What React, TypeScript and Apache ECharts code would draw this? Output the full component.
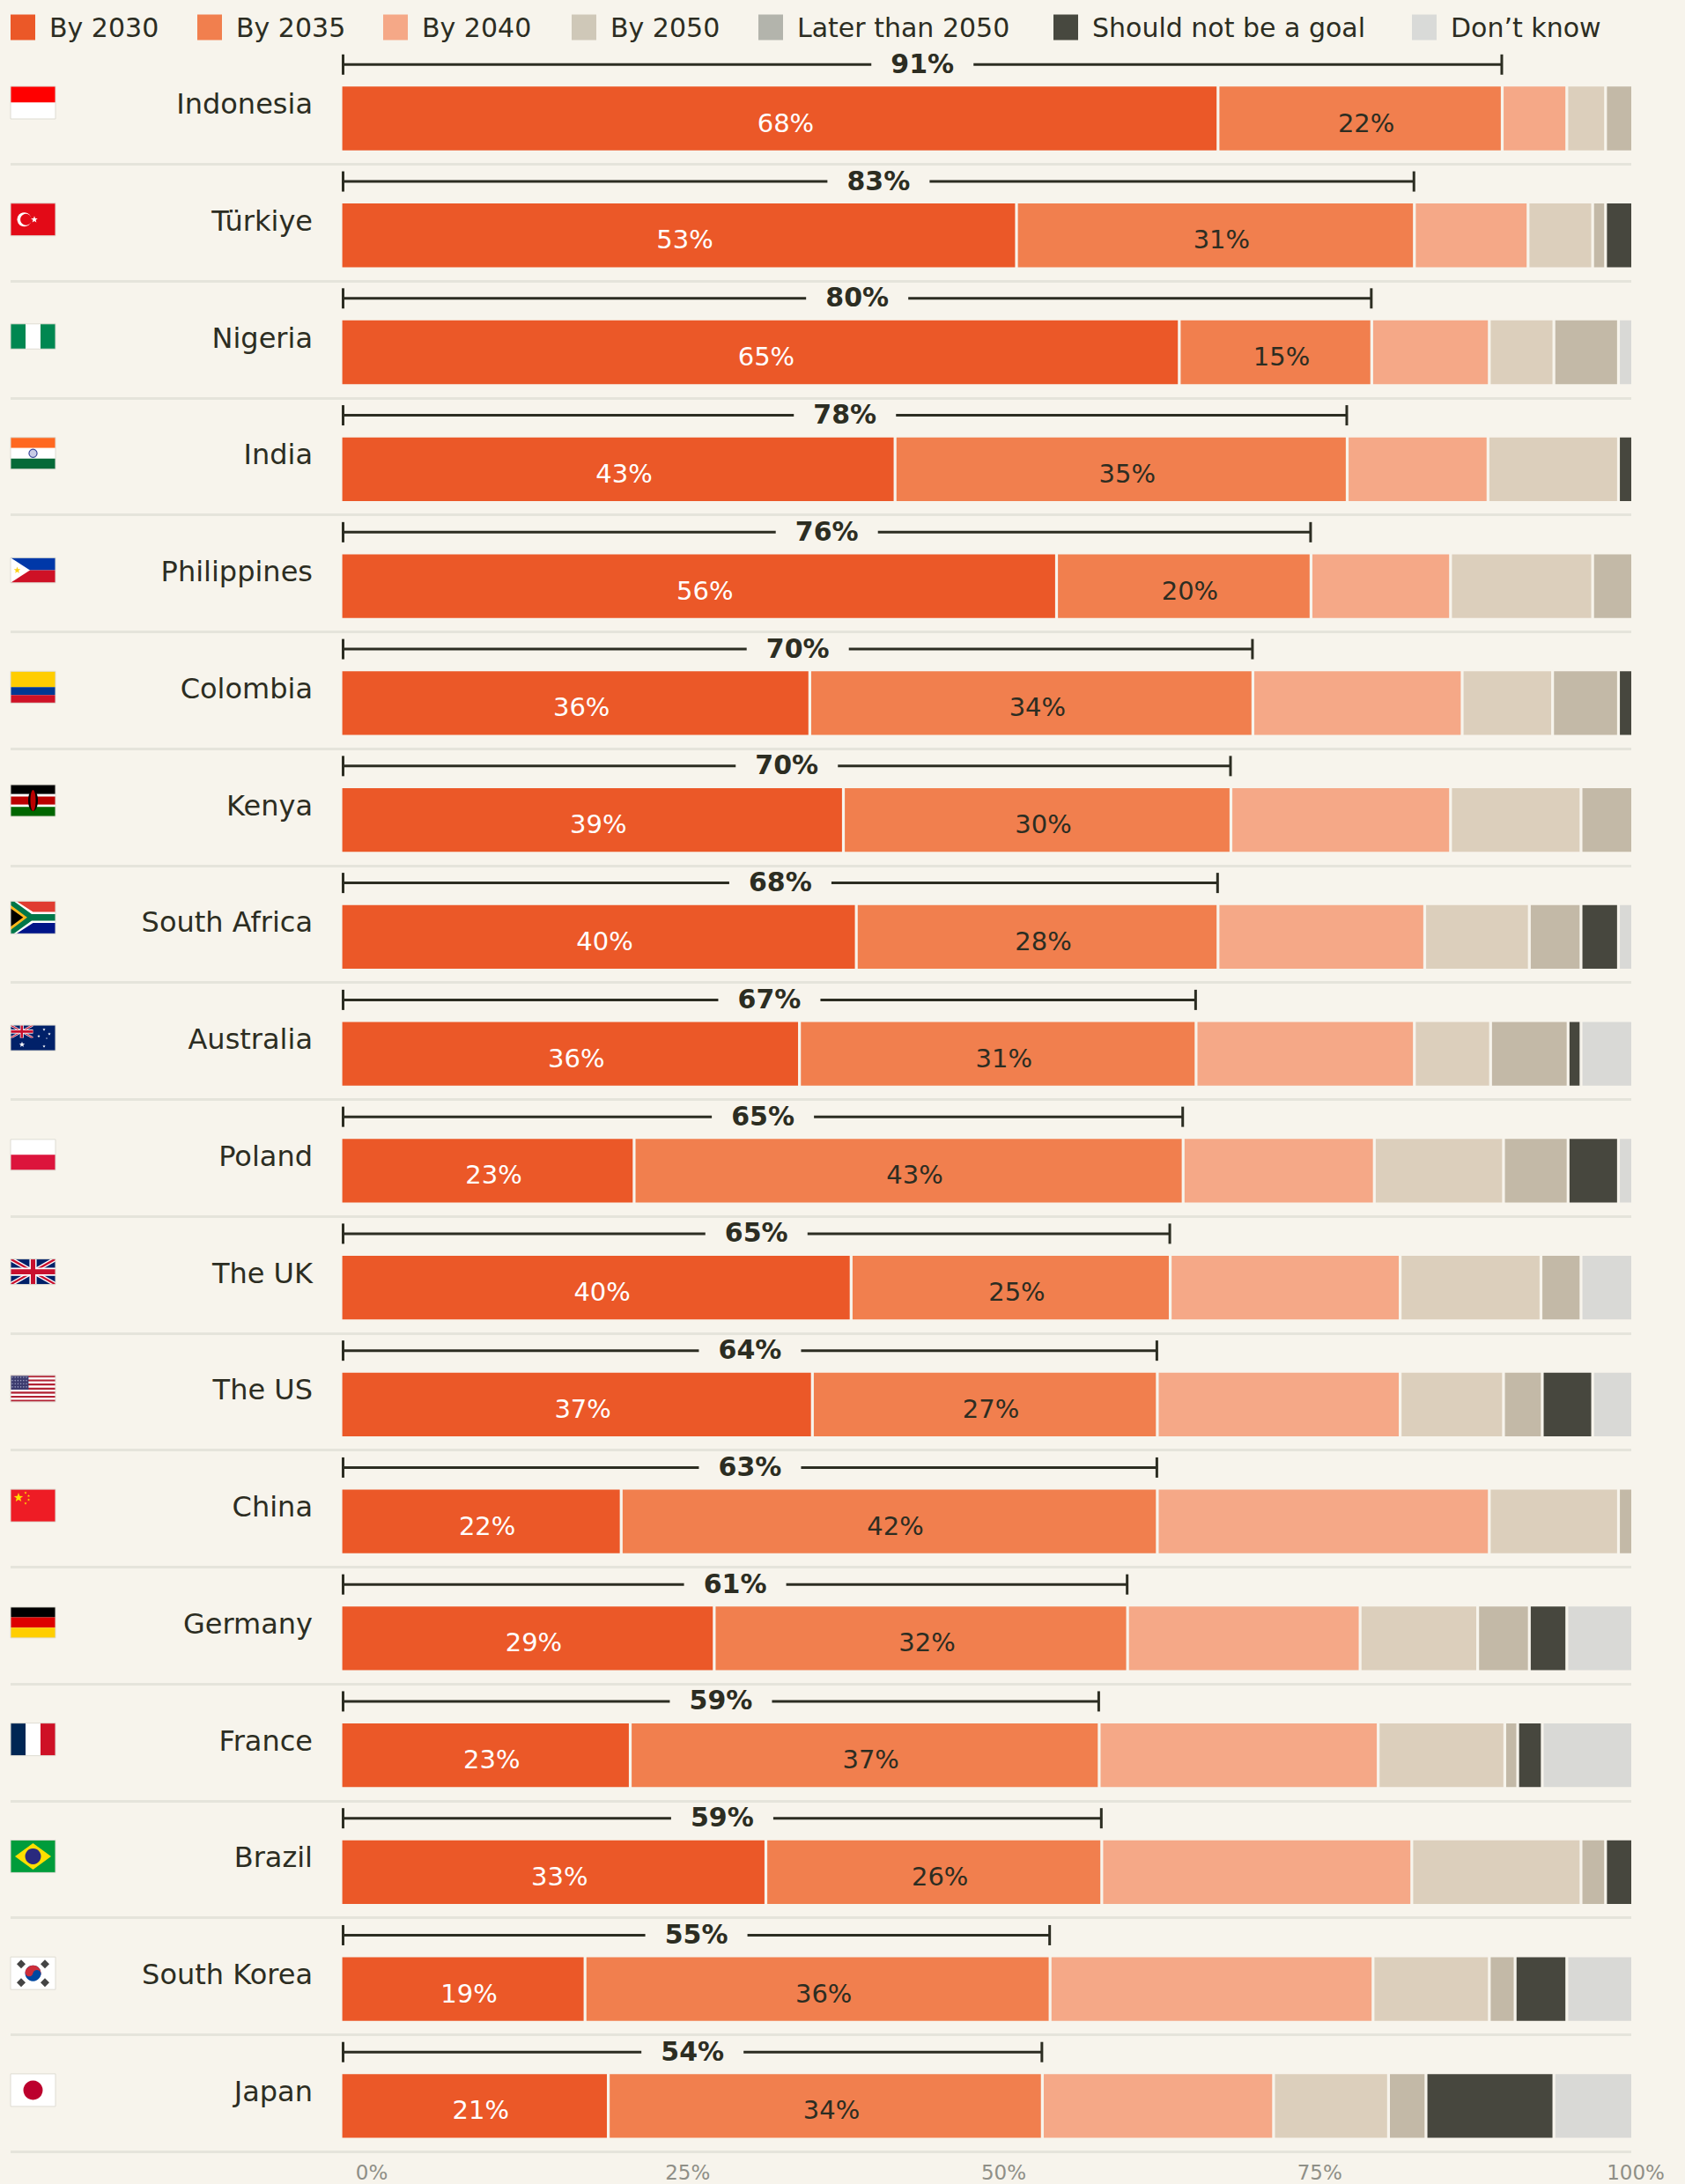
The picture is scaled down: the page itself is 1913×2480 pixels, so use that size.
import React, { useEffect, useRef } from "react";
import * as echarts from "echarts";

const FONT = "'DejaVu Sans', sans-serif";
const BG = "#F7F4EC";
const INK = "#2C2D22";

const countries = ["Indonesia","Türkiye","Nigeria","India","Philippines","Colombia","Kenya","South Africa","Australia","Poland","The UK","The US","China","Germany","France","Brazil","South Korea","Japan"];
const seriesNames = ["By 2030","By 2035","By 2040","By 2050","Later than 2050","Should not be a goal","Don’t know"];
const barColors = ["#EB5828","#F17F4E","#F5A887","#DCCFBC","#C3B9A7","#47473E","#D9D9D6"];
const legendColors = ["#EB5828","#F17F4E","#F5A887","#CFC8B8","#B3B4AC","#47483F","#D9DAD8"];

const by2030 = [67.9,52.3,64.9,42.9,55.4,36.3,38.9,39.9,35.5,22.7,39.5,36.5,21.7,28.9,22.4,32.9,18.9,20.7];
const by2035 = [22,30.8,14.9,35,19.7,34.3,30,28,30.7,42.5,24.7,26.7,41.5,32,36.3,26,36,33.6];
const by2040 = [5,8.8,9.1,10.9,10.8,16.2,17,16,16.9,14.8,17.8,18.8,25.7,18,21.6,24,25,17.9];
const by2050 = [3,5,5,10.1,11,7,10.1,8.1,5.9,10,10.9,8,10,9.1,9.8,13.1,9,8.9];
const later = [2.1,1,5,0,3.1,5.1,4,4,6,5,3.1,3,1.1,4,1,1.9,2,2.9];
const notGoal = [0,2.1,0,1.1,0,1.1,0,2.9,1,3.9,0,3.9,0,2.9,1.9,2.1,4,9.9];
const dontKnow = [0,0,1.1,0,0,0,0,1.1,4,1.1,4,3.1,0,5.1,7,0,5.1,6.1];
const values = [by2030,by2035,by2040,by2050,later,notGoal,dontKnow];

const labels2030 = [68,53,65,43,56,36,39,40,36,23,40,37,22,29,23,33,19,21];
const labels2035 = [22,31,15,35,20,34,30,28,31,43,25,27,42,32,37,26,36,34];
const netLabels = [91,83,80,78,76,70,70,68,67,65,65,64,63,61,59,59,55,54];
const tickValues = [0,25,50,75,100];

const LEGEND_LEFTS = [12,224,435,649,861,1196,1603];
const W = 51;
const r = (x:number,y:number,width:number,height:number,fill:string)=>({type:"rect",shape:{x,y,width,height},style:{fill}});
const pg = (points:number[][],fill:string)=>({type:"polygon",shape:{points},style:{fill}});
const ci = (cx:number,cy:number,rad:number,fill:string)=>({type:"circle",shape:{cx,cy,r:rad},style:{fill}});
const star = (cx:number,cy:number,R:number,fill:string)=>{
  const pts:number[][]=[];
  for(let i=0;i<10;i++){const a=-Math.PI/2+i*Math.PI/5;const q=i%2?R*0.42:R;pts.push([cx+q*Math.cos(a),cy+q*Math.sin(a)]);}
  return pg(pts,fill);
};
const union = (w:number,h:number)=>{
  const diag=(t:number,c:string)=>{const b=t*h/w;return [
    pg([[0,0],[t,0],[w,h-b],[w,h],[w-t,h],[0,b]],c),
    pg([[w,0],[w-t,0],[0,h-b],[0,h],[t,h],[w,b]],c)];};
  return [r(0,0,w,h,"#012169"),...diag(w*0.1,"#FFFFFF"),...diag(w*0.045,"#C8102E"),
    r(0,h*0.34,w,h*0.32,"#FFFFFF"),r(w*0.42,0,w*0.16,h,"#FFFFFF"),
    r(0,h*0.4,w,h*0.2,"#C8102E"),r(w*0.45,0,w*0.1,h,"#C8102E")];
};
const hStripes=(H:number,cs:string[])=>cs.map((c,i)=>r(0,H*i/cs.length,W,H/cs.length,c));
const vStripes=(H:number,cs:string[])=>cs.map((c,i)=>r(W*i/cs.length,0,W/cs.length,H,c));

const flags:{h:number;dy:number;draw:(H:number)=>any[]}[] = [
  {h:37,dy:0,draw:H=>hStripes(H,["#FF0000","#FFFFFF"])},
  {h:37,dy:0,draw:H=>[r(0,0,W,H,"#E30A17"),ci(15.5,18.5,8,"#FFFFFF"),ci(17.5,18.5,6.4,"#E30A17"),star(27,18.5,4,"#FFFFFF")]},
  {h:28.5,dy:0,draw:H=>vStripes(H,["#008751","#FFFFFF","#008751"])},
  {h:36,dy:0,draw:H=>[...hStripes(H,["#FF6820","#FFFFFF","#046A38"]),{type:"circle",shape:{cx:W/2,cy:H/2,r:4.6},style:{fill:"#C9CCE6",stroke:"#3D4A9C",lineWidth:1.2}}]},
  {h:28.5,dy:0,draw:H=>[r(0,0,W,H/2,"#0038A8"),r(0,H/2,W,H/2,"#CE1126"),pg([[0,0],[22,H/2],[0,H]],"#FFFFFF"),star(7.5,H/2,4,"#FCD116")]},
  {h:36,dy:0,draw:H=>[r(0,0,W,H/2,"#FFCD00"),r(0,H/2,W,H/4,"#003893"),r(0,H*0.75,W,H/4,"#CE1126")]},
  {h:36,dy:-4,draw:H=>[r(0,0,W,H*0.3,"#000000"),r(0,H*0.3,W,H*0.07,"#FFFFFF"),r(0,H*0.37,W,H*0.26,"#BB0000"),r(0,H*0.63,W,H*0.07,"#FFFFFF"),r(0,H*0.7,W,H*0.3,"#006600"),
    {type:"ellipse",shape:{cx:W/2,cy:H/2,rx:5.5,ry:12},style:{fill:"#000000"}},{type:"ellipse",shape:{cx:W/2,cy:H/2,rx:3,ry:12},style:{fill:"#BB0000"}}]},
  {h:37,dy:-4,draw:H=>[r(0,0,W,H/2,"#E03C31"),r(0,H/2,W,H/2,"#001489"),
    pg([[0,0],[W*0.13,0],[W*0.5,H*0.33],[W,H*0.33],[W,H*0.67],[W*0.5,H*0.67],[W*0.13,H],[0,H]],"#FFFFFF"),
    pg([[0,0],[W*0.07,0],[W*0.47,H*0.4],[W,H*0.4],[W,H*0.6],[W*0.47,H*0.6],[W*0.07,H],[0,H]],"#007749"),
    pg([[0,H*0.12],[W*0.37,H/2],[0,H*0.88]],"#FFB81C"),pg([[0,H*0.22],[W*0.28,H/2],[0,H*0.78]],"#000000")]},
  {h:29,dy:0,draw:H=>[r(0,0,W,H,"#012169"),...union(W/2,H/2),star(13,22,3.4,"#FFFFFF"),star(38,5,1.8,"#FFFFFF"),star(32,12.5,1.8,"#FFFFFF"),star(44,10,1.8,"#FFFFFF"),star(38,24,1.8,"#FFFFFF"),star(41,15,1,"#FFFFFF")]},
  {h:35,dy:0,draw:H=>hStripes(H,["#FFFFFF","#DC143C"])},
  {h:29,dy:0,draw:H=>union(W,H)},
  {h:30,dy:0,draw:H=>{
    const out:any[]=[];
    for(let i=0;i<13;i++)out.push(r(0,H*i/13,W,H/13,i%2?"#FFFFFF":"#B22234"));
    out.push(r(0,0,W*0.4,H*7/13,"#3C3B6E"));
    for(let i=0;i<6;i++)for(let j=0;j<4;j++)out.push(ci(2+i*3.2,2.2+j*3.6,0.7,"#9FA3C4"));
    return out;}},
  {h:37,dy:0,draw:H=>[r(0,0,W,H,"#EE1C25"),star(9,9.5,5.5,"#FFDE00"),star(17,4,1.6,"#FFDE00"),star(20.5,7.5,1.6,"#FFDE00"),star(20.5,12,1.6,"#FFDE00"),star(17,16,1.6,"#FFDE00")]},
  {h:35,dy:0,draw:H=>hStripes(H,["#000000","#DD0000","#FFCE00"])},
  {h:37,dy:0,draw:H=>vStripes(H,["#002654","#FFFFFF","#CE1126"])},
  {h:37,dy:0,draw:H=>[r(0,0,W,H,"#009C3B"),pg([[5,H/2],[W/2,3.5],[W-5,H/2],[W/2,H-3.5]],"#FFDF00"),ci(W/2,H/2,9,"#2A2A7E")]},
  {h:37,dy:0,draw:H=>{
    const cx=W/2,cy=H/2,dk="#444444";
    const d=(x:number,y:number)=>pg([[x,y-5],[x+5,y],[x,y+5],[x-5,y]],dk);
    return [r(0,0,W,H,"#FFFFFF"),d(12,8),d(39,8),d(12,29),d(39,29),
      ci(cx,cy,9,"#0047A0"),{type:"sector",shape:{cx,cy,r:9,startAngle:Math.PI*1.1,endAngle:Math.PI*2.1},style:{fill:"#CD2E3A"}},
      ci(cx-4.4,cy-0.8,4.5,"#CD2E3A"),ci(cx+4.4,cy+0.8,4.5,"#0047A0")];}},
  {h:37,dy:0,draw:H=>[r(0,0,W,H,"#FFFFFF"),ci(W/2,H/2,11,"#BC002D")]},
];

const PITCH = 132.76;
const FIRST_BAR_TOP = 98;
const BAR_H = 73;

function flagElements(){
  return flags.map((f,i)=>({
    type:"group",x:12,y:FIRST_BAR_TOP+PITCH*i+18.5-f.h/2+f.dy,silent:true,
    children:[...f.draw(f.h),{type:"rect",shape:{x:0,y:0,width:W,height:f.h},style:{fill:"none",stroke:"#DEDCD3",lineWidth:1}}],
  }));
}

export default function App(){
  const ref=useRef<HTMLDivElement>(null);
  useEffect(()=>{
    document.documentElement.style.background=BG;
    document.body.style.margin="0";
    document.body.style.background=BG;
    const chart=echarts.init(ref.current!,undefined,{renderer:"svg"});
    const gridTop=FIRST_BAR_TOP+BAR_H/2-PITCH/2;
    const gridH=PITCH*countries.length;
    const bars=values.map((vals,s)=>({
      name:seriesNames[s],type:"bar",stack:"all",xAxisIndex:0,yAxisIndex:0,barWidth:BAR_H+2.5,
      data:vals,
      itemStyle:{color:barColors[s],borderColor:BG,borderWidth:1.6},
      label:s<2?{show:true,position:"inside",offset:[7,5],fontFamily:FONT,fontSize:29,color:s===0?"#FFFFFF":INK,
        formatter:(p:any)=>(s===0?labels2030:labels2035)[p.dataIndex]+"%"}:{show:false},
    }));
    const bracket={
      type:"custom",xAxisIndex:0,yAxisIndex:0,silent:true,z:5,
      data:countries.map((_,i)=>[by2030[i]+by2035[i],i]),
      encode:{x:0,y:1},
      renderItem:(_:any,api:any)=>{
        const idx=api.value(1);
        const end=api.coord([api.value(0),idx]);
        const x0=api.coord([0,idx])[0]+2.5;
        const x1=end[0]-0.5;
        const y=end[1]-61.2;
        const mid=(x0+x1)/2;
        const st={stroke:INK,lineWidth:3};
        const ln=(a:number,b:number,c:number,d:number)=>({type:"line",shape:{x1:a,y1:b,x2:c,y2:d},style:st});
        return {type:"group",children:[
          ln(x0,y,mid-58,y),ln(mid+58,y,x1,y),ln(x0,y-11.5,x0,y+11.5),ln(x1,y-11.5,x1,y+11.5),
          {type:"text",style:{text:netLabels[idx]+"%",x:mid,y:y-1,align:"center",verticalAlign:"middle",fontFamily:FONT,fontSize:30,fontWeight:700,fill:INK}},
        ]};
      },
    };
    chart.setOption({
      animation:false,
      backgroundColor:BG,
      textStyle:{fontFamily:FONT},
      legend:seriesNames.map((name,i)=>({
        left:LEGEND_LEFTS[i],top:16,itemWidth:28,itemHeight:29,icon:"rect",selectedMode:false,padding:0,
        textStyle:{fontFamily:FONT,fontSize:30,color:INK,padding:[0,0,0,11]},
        data:[{name,itemStyle:{color:legendColors[i],borderWidth:0}}],
      })),
      grid:[
        {left:387,width:1466.6,top:gridTop,height:gridH},
        {left:12,width:1840,top:186.3-PITCH,height:gridH},
        {left:422,width:1435,top:2444,height:1},
        {left:388,width:1,top:118-PITCH/2,height:gridH},
      ],
      xAxis:[
        {gridIndex:0,type:"value",min:0,max:100,show:false},
        {gridIndex:1,type:"value",min:0,max:100,show:false},
        {gridIndex:2,type:"value",min:0,max:100,interval:25,axisLine:{show:false},axisTick:{show:false},splitLine:{show:false},
          axisLabel:{margin:12,lineHeight:20,fontFamily:FONT,fontSize:23,color:"#8F8F87",formatter:(v:number)=>tickValues.includes(v)?v+"%":""}},
        {gridIndex:3,type:"value",min:0,max:100,show:false},
      ],
      yAxis:[
        {gridIndex:0,type:"category",inverse:true,data:countries,axisLine:{show:false},axisTick:{show:false},splitLine:{show:false},axisLabel:{show:false}},
        {gridIndex:1,type:"category",inverse:true,data:countries,axisLine:{show:false},axisTick:{show:false},axisLabel:{show:false},
          splitLine:{show:true,interval:0,showMinLine:false,lineStyle:{color:"#E5E4DB",width:3}}},
        {gridIndex:2,type:"value",show:false,min:0,max:1},
        {gridIndex:3,type:"category",inverse:true,data:countries,axisLine:{show:false},axisTick:{show:false},splitLine:{show:false},
          axisLabel:{interval:0,margin:33,fontFamily:FONT,fontSize:32,color:INK}},
      ],
      graphic:{elements:flagElements()},
      series:[...bars,bracket],
    });
    return ()=>chart.dispose();
  },[]);
  return <div ref={ref} style={{width:1913,height:2480}}/>;
}
